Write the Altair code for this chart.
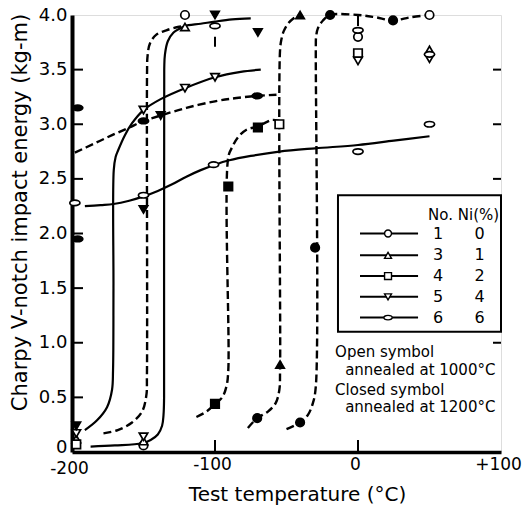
import altair as alt
import pandas as pd

# ---------------- frame / axes ----------------
TEMP_DOMAIN = [-200, 100]
ENERGY_DOMAIN = [0, 4]
PLOT_W, PLOT_H = 429, 437
FONT = "DejaVu Sans"

x_label_values = [-200, -100, 0, 100]
y_label_values = [0, 0.5, 1.0, 1.5, 2.0, 2.5, 3.0, 3.5, 4.0]
left_tick_values = [0.5, 1.0, 1.5, 2.0, 2.5, 3.0, 3.5]
right_tick_values = [1.0, 2.5, 3.0, 3.5]
bottom_tick_values = [-100, 0]

# ---------------- transition curves (temperature degC, energy kg-m) ----------------
# solid = annealed at 1000 degC, dashed = annealed at 1200 degC
ni4_open_temp = [-191, -182.5, -175.5, -172, -171.3, -171, -170.8, -169.5, -167.8, -163, -158,
                 -150, -138, -121, -100, -82, -68]
ni4_open_energy = [0.2, 0.29, 0.41, 0.57, 0.75, 1.5, 2.58, 2.7, 2.76, 2.9, 3.01,
                   3.13, 3.23, 3.33, 3.43, 3.48, 3.5]

ni1_open_temp = [-187, -170, -151, -145, -140, -137, -136, -135.6, -135.5, -135, -133, -129,
                 -124, -121, -110, -100, -88, -75]
ni1_open_energy = [0.05, 0.06, 0.08, 0.11, 0.16, 0.24, 0.34, 0.5, 3.5, 3.64, 3.76, 3.84,
                   3.88, 3.9, 3.92, 3.94, 3.96, 3.97]

ni6_open_temp = [-191, -180, -171, -160, -150, -140, -130, -120, -110, -100, -90, -75, -55,
                 -30, 0, 25, 50]
ni6_open_energy = [2.25, 2.26, 2.27, 2.3, 2.34, 2.39, 2.45, 2.52, 2.58, 2.63, 2.67, 2.71, 2.75,
                   2.78, 2.81, 2.85, 2.89]

ni4_closed_temp = [-178, -168, -158, -151, -148, -147.6, -147.5, -147.2, -145.5, -141, -134,
                   -126, -121]
ni4_closed_energy = [0.17, 0.2, 0.27, 0.37, 0.52, 0.7, 3.5, 3.62, 3.74, 3.82, 3.86, 3.89, 3.9]

ni6_closed_temp = [-198, -185, -172, -160, -150, -138, -120, -100, -85, -70, -57]
ni6_closed_energy = [2.74, 2.82, 2.9, 2.97, 3.03, 3.08, 3.15, 3.21, 3.24, 3.26, 3.27]

ni2_closed_temp = [-113, -106, -100, -95, -92, -90.7, -90.7, -88, -84, -78, -70, -64, -60, -55]
ni2_closed_energy = [0.32, 0.37, 0.44, 0.5, 0.6, 0.75, 2.7, 2.79, 2.88, 2.95, 2.98, 3.02, 3.04,
                     3.03]

ni1_closed_temp = [-77, -70.5, -63, -57.5, -55, -54.5, -54.5, -53.5, -52, -49, -45, -41]
ni1_closed_energy = [0.22, 0.31, 0.37, 0.45, 0.57, 0.75, 3.68, 3.78, 3.85, 3.92, 3.97, 4.0]

ni0_closed_temp = [-50, -40.5, -35, -31.5, -29.5, -29.5, -29.3, -28, -24.5, -19.5, 0, 12, 24.5,
                   37, 50]
ni0_closed_energy = [0.21, 0.27, 0.34, 0.45, 0.6, 3.7, 3.8, 3.88, 3.95, 4.0, 4.0, 3.98, 3.95,
                     3.98, 4.0]

curves = [
    ("ni4_open", "solid", ni4_open_temp, ni4_open_energy),
    ("ni1_open", "solid", ni1_open_temp, ni1_open_energy),
    ("ni6_open", "solid", ni6_open_temp, ni6_open_energy),
    ("ni4_closed", "dashed", ni4_closed_temp, ni4_closed_energy),
    ("ni6_closed", "dashed", ni6_closed_temp, ni6_closed_energy),
    ("ni2_closed", "dashed", ni2_closed_temp, ni2_closed_energy),
    ("ni1_closed", "dashed", ni1_closed_temp, ni1_closed_energy),
    ("ni0_closed", "dashed", ni0_closed_temp, ni0_closed_energy),
]

# ---------------- measured points ----------------
open_circle_temp = [-121, -150, 50, 0]
open_circle_energy = [4.0, 0.06, 4.0, 3.80]
open_tri_up_temp = [-197, -150, -121, 50]
open_tri_up_energy = [0.12, 0.10, 3.89, 3.68]
open_square_temp = [-197, -55, 0]
open_square_energy = [0.07, 3.0, 3.65]
open_tri_down_temp = [-197, -150, -150, -121, -100, 0, 50]
open_tri_down_energy = [0.17, 0.14, 3.13, 3.33, 3.43, 3.58, 3.60]
open_oval_temp = [-198, -150, -101, 0, 50, -100, 0, 50]
open_oval_energy = [2.28, 2.35, 2.63, 2.75, 3.0, 3.9, 3.86, 3.64]

closed_circle_temp = [-70.5, -40.5, -30, -19.5, 24.5]
closed_circle_energy = [0.31, 0.27, 1.87, 4.0, 3.95]
closed_tri_up_temp = [-54.5, -40.5]
closed_tri_up_energy = [0.8, 4.0]
closed_square_temp = [-100, -90.7, -70]
closed_square_energy = [0.44, 2.43, 2.97]
closed_tri_down_temp = [-197, -150, -138, -100, -70]
closed_tri_down_energy = [0.24, 2.22, 3.08, 4.0, 3.84]
closed_oval_temp = [-196, -196, -150, -70.5]
closed_oval_energy = [3.15, 1.95, 3.03, 3.26]

# scatter ranges
range_temp = [-100, 0]
range_low = [3.71, 3.9]
range_high = [3.8, 4.0]

# ---------------- legend content ----------------
legend_symbols = ["circle", "triangle-up", "square", "triangle-down", "oval"]
legend_no = ["1", "3", "4", "5", "6"]
legend_ni = ["0", "1", "2", "4", "6"]
note_lines = ["Open symbol", "annealed at 1000°C", "Closed symbol", "annealed at 1200°C"]

OVAL = "M-1.2,0A1.2,0.65,0,1,1,1.2,0A1.2,0.65,0,1,1,-1.2,0Z"
SHAPES = ["circle", "triangle-up", "square", "triangle-down", "oval"]
SHAPE_RANGE = ["circle", "triangle-up", "square", "triangle-down", OVAL]

# ---------------- tables ----------------
curve_rows = []
for name, style, temps, energies in curves:
    for i, (t, e) in enumerate(zip(temps, energies)):
        curve_rows.append({"curve": name, "style": style, "idx": i, "t": t, "e": e})
curve_df = pd.DataFrame(curve_rows)

point_groups = [
    ("circle", "1000", open_circle_temp, open_circle_energy),
    ("triangle-up", "1000", open_tri_up_temp, open_tri_up_energy),
    ("square", "1000", open_square_temp, open_square_energy),
    ("triangle-down", "1000", open_tri_down_temp, open_tri_down_energy),
    ("oval", "1000", open_oval_temp, open_oval_energy),
    ("circle", "1200", closed_circle_temp, closed_circle_energy),
    ("triangle-up", "1200", closed_tri_up_temp, closed_tri_up_energy),
    ("square", "1200", closed_square_temp, closed_square_energy),
    ("triangle-down", "1200", closed_tri_down_temp, closed_tri_down_energy),
    ("oval", "1200", closed_oval_temp, closed_oval_energy),
]
point_df = pd.DataFrame(
    [{"sym": s, "ann": a, "t": t, "e": e}
     for s, a, ts, es in point_groups for t, e in zip(ts, es)]
)

range_df = pd.DataFrame({"t": range_temp, "lo": range_low, "hi": range_high})

# legend placement in data units
LEG_BOX = {"x0": -14, "x1": 100, "y0": 1.10, "y1": 2.35}
LEG_ROW_Y = [2.0, 1.8, 1.61, 1.42, 1.23]
LEG_LINE_X = (1.4, 42)
LEG_SYM_X = 21
LEG_NO_X = 56
LEG_NI_X = 85
legend_df = pd.DataFrame({
    "sym": legend_symbols, "no": legend_no, "ni": legend_ni, "e": LEG_ROW_Y,
    "x0": LEG_LINE_X[0], "x1": LEG_LINE_X[1], "xs": LEG_SYM_X,
    "xno": LEG_NO_X, "xni": LEG_NI_X, "ann": "1000",
})
note_df = pd.DataFrame({
    "text": note_lines,
    "t": [-16, -9, -16, -9],
    "e": [0.915, 0.75, 0.567, 0.41],
})

# ---------------- encodings ----------------
x_scale = alt.Scale(domain=TEMP_DOMAIN, nice=False, zero=False)
y_scale = alt.Scale(domain=ENERGY_DOMAIN, nice=False, zero=False)
x_axis = alt.Axis(
    values=x_label_values, ticks=False, tickSize=0, grid=False, labelFlush=False,
    domain=True, domainWidth=3.5, domainColor="black",
    labelExpr="datum.value > 0 ? '+' + datum.value : '' + datum.value",
    labelFontSize=17,
    labelPadding={"condition": {"test": "datum.value == -200", "value": 8}, "value": 4},
    labelOffset=-3, labelColor="black", labelFont=FONT,
    title="Test temperature (°C)", titleFontSize=20, titleFontWeight="normal",
    titleFont=FONT, titleColor="black", titleX=225, titleY=48,
    titleBaseline="alphabetic", titleAlign="center",
)
y_axis = alt.Axis(
    values=y_label_values, ticks=False, tickSize=0, grid=False, labelFlush=False,
    domain=True, domainWidth=4, domainColor="black",
    labelExpr="datum.value == 0 ? '0' : format(datum.value, '.1f')",
    labelFontSize=18, labelPadding=5,
    labelOffset={"condition": {"test": "datum.value == 0", "value": -5}, "value": 0},
    labelColor="black", labelFont=FONT,
    title="Charpy V-notch impact energy (kg-m)", titleFontSize=21,
    titleFontWeight="normal", titleFont=FONT, titleColor="black",
    titleAngle=270, titleX=-46, titleY=197, titleBaseline="alphabetic",
    titleAlign="center",
)


def xq(field):
    return alt.X(f"{field}:Q", scale=x_scale, axis=x_axis)


def yq(field):
    return alt.Y(f"{field}:Q", scale=y_scale, axis=y_axis)


shape_enc = alt.Shape("sym:N", scale=alt.Scale(domain=SHAPES, range=SHAPE_RANGE), legend=None)
fill_enc = alt.Fill("ann:N", scale=alt.Scale(domain=["1000", "1200"], range=["white", "black"]),
                    legend=None)

# ---------------- layers ----------------
solid_lines = alt.Chart(curve_df[curve_df["style"] == "solid"]).mark_line(
    color="black", strokeWidth=2.2, interpolate="catmull-rom"
).encode(x=xq("t"), y=yq("e"), detail="curve:N", order="idx:Q")

dashed_lines = alt.Chart(curve_df[curve_df["style"] == "dashed"]).mark_line(
    color="black", strokeWidth=2.4, strokeDash=[8, 4], interpolate="catmull-rom"
).encode(x=xq("t"), y=yq("e"), detail="curve:N", order="idx:Q")

ranges = alt.Chart(range_df).mark_rule(color="black", strokeWidth=2).encode(
    x=xq("t"), y=yq("lo"), y2="hi:Q"
)

points = alt.Chart(point_df).mark_point(
    filled=True, stroke="black", strokeWidth=1.7, size=72, opacity=1
).encode(x=xq("t"), y=yq("e"), shape=shape_enc, fill=fill_enc)

left_ticks = alt.Chart(pd.DataFrame({"e": left_tick_values})).mark_rule(
    color="black", strokeWidth=2
).encode(y=yq("e"), x=alt.value(0), x2=alt.value(11))

right_ticks = alt.Chart(pd.DataFrame({"e": right_tick_values})).mark_rule(
    color="black", strokeWidth=2
).encode(y=yq("e"), x=alt.value(PLOT_W - 8), x2=alt.value(PLOT_W))

bottom_ticks = alt.Chart(pd.DataFrame({"t": bottom_tick_values})).mark_rule(
    color="black", strokeWidth=2
).encode(x=xq("t"), y=alt.value(PLOT_H), y2=alt.value(PLOT_H - 12))

legend_box = alt.Chart(pd.DataFrame([LEG_BOX])).mark_rect(
    fill="white", stroke="black", strokeWidth=2
).encode(x=xq("x0"), x2="x1:Q", y=yq("y0"), y2="y1:Q")

legend_lines = alt.Chart(legend_df).mark_rule(color="black", strokeWidth=2).encode(
    x=xq("x0"), x2="x1:Q", y=yq("e")
)

legend_points = alt.Chart(legend_df).mark_point(
    filled=True, stroke="black", strokeWidth=1.4, size=48, opacity=1
).encode(x=xq("xs"), y=yq("e"), shape=shape_enc, fill=fill_enc)

legend_no_text = alt.Chart(legend_df).mark_text(
    font=FONT, fontSize=16, color="black", align="center", baseline="middle"
).encode(x=xq("xno"), y=yq("e"), text="no:N")

legend_ni_text = alt.Chart(legend_df).mark_text(
    font=FONT, fontSize=16, color="black", align="center", baseline="middle"
).encode(x=xq("xni"), y=yq("e"), text="ni:N")

legend_header = alt.Chart(pd.DataFrame({"t": [49], "e": [2.17], "text": ["No. Ni(%)"]})).mark_text(
    font=FONT, fontSize=15, color="black", align="left", baseline="middle"
).encode(x=xq("t"), y=yq("e"), text="text:N")

notes = alt.Chart(note_df).mark_text(
    font=FONT, fontSize=15, color="black", align="left", baseline="middle"
).encode(x=xq("t"), y=yq("e"), text="text:N")

chart = alt.layer(
    solid_lines, dashed_lines, ranges, points,
    left_ticks, right_ticks, bottom_ticks,
    legend_box, legend_lines, legend_points,
    legend_no_text, legend_ni_text, legend_header, notes,
).properties(
    width=PLOT_W, height=PLOT_H,
    autosize=alt.AutoSizeParams(type="none"),
    padding={"left": 72, "top": 15, "right": 21, "bottom": 61},
    background="white",
).configure_view(
    stroke="black", strokeWidth=2.5
).configure(font=FONT)

chart.save("out.html", embed_options={"renderer": "svg", "actions": False})
